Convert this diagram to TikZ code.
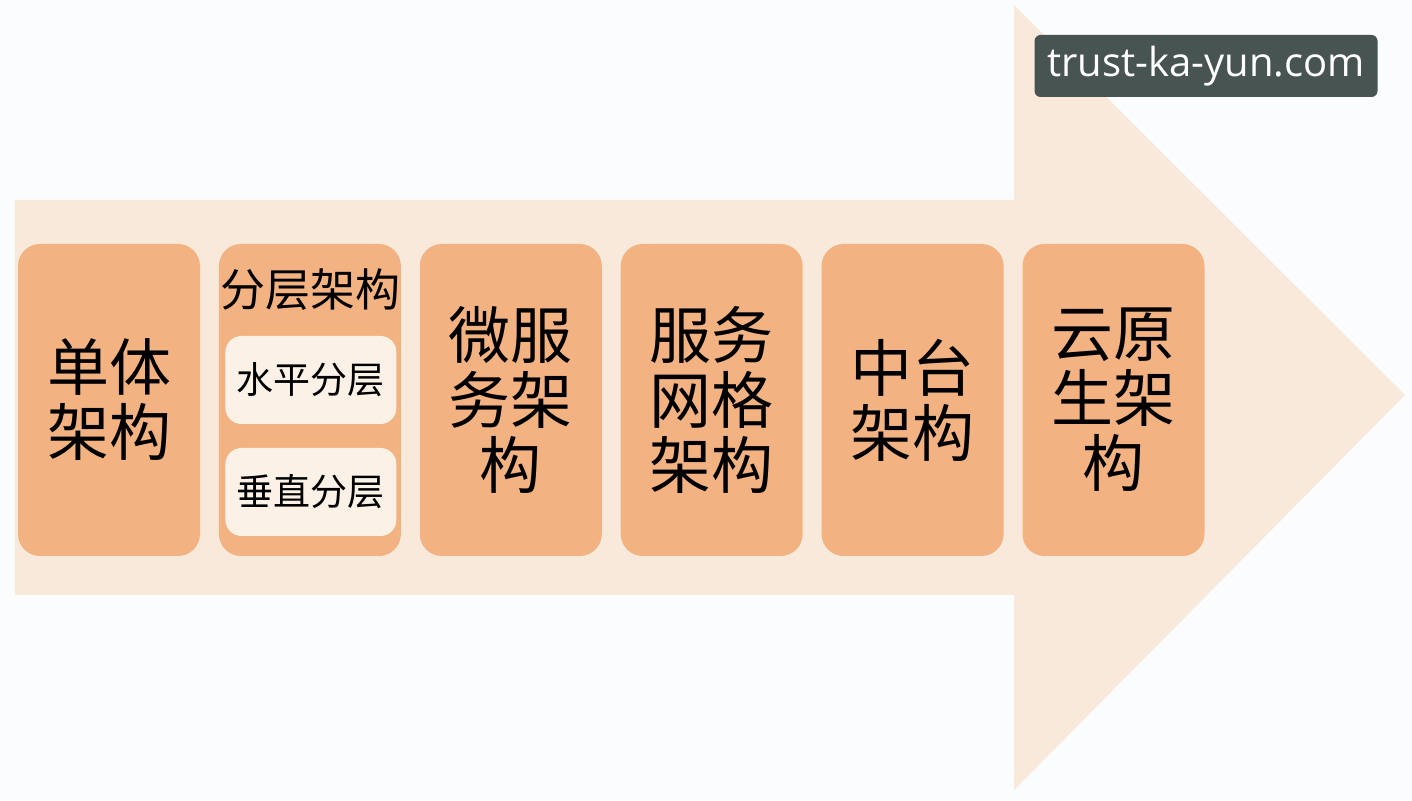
\documentclass[tikz,border=0pt]{standalone}
\usepackage{fontspec}
\newfontfamily\cjk{Noto Sans CJK SC}
\newfontfamily\wmfont{Open Sans}
\usepackage{xcolor}
\usepackage{tikz}
\usetikzlibrary{backgrounds,calc,positioning}

\definecolor{pagebg}{HTML}{FAFCFD}
\definecolor{shaft}{HTML}{F8E9DA}
\definecolor{peach}{HTML}{F3B282}
\definecolor{cream}{HTML}{FBF1E7}
\definecolor{slate}{HTML}{485452}

\begin{document}
\begin{tikzpicture} [x=1pt, y=1pt, node distance=18.5pt,
	archbox/.style={fill=peach, rounded corners=22pt, minimum width=182pt, minimum height=312pt, inner sep=0pt, align=center, font=\cjk\fontsize{62}{65}\selectfont},
	layerbox/.style={fill=cream, rounded corners=16pt, minimum width=171pt, minimum height=88pt, inner sep=0pt, font=\cjk\fontsize{37}{40}\selectfont}]
	
	\useasboundingbox (0,0) rectangle (1412,800);
	
	
	\begin{scope}
	
	\node (mono) [archbox] at (109,400) {单体\\架构};
	
	\node (layer) [archbox, right=of mono] {};
	
	\node (micro) [archbox, right=of layer] {微服\\务架\\构};
	
	\node (mesh) [archbox, right=of micro] {服务\\网格\\架构};
	
	\node (platform) [archbox, right=of mesh] {中台\\架构};
	
	\node (cloud) [archbox, right=of platform] {云原\\生架\\构};
	
	
	\node (layer_title) at ($(layer.north) + (1,-46)$) {\cjk\fontsize{45}{48}\selectfont 分层架构};
	
	\node (layer_h) [layerbox] at ($(layer.center) + (1,20)$) {水平分层};
	
	\node (layer_v) [layerbox] at ($(layer.center) + (1,-92)$) {垂直分层};
	
	\end{scope}
	
	
	\node (mark) [fill=slate, rounded corners=6pt, minimum width=343pt, minimum height=62pt, inner sep=0pt, text=white] at (1206,734) {\wmfont\fontsize{40}{44}\selectfont trust-ka-yun.com};
	
	
	
	\begin{pgfonlayer}{background}
	
	\fill [pagebg] (0,0) rectangle (1412,800);
	
	\fill [shaft] (15,600) -- (1014,600) -- (1014,795) -- (1405,405) -- (1014,10) -- (1014,205) -- (15,205) -- cycle;
	
	\end{pgfonlayer}
	
	
	
	\end{tikzpicture}
\end{document}
